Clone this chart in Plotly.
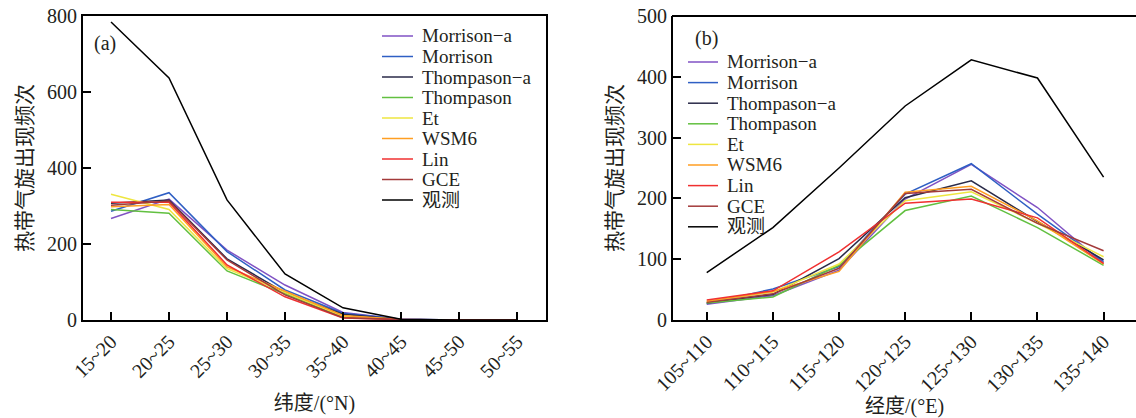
import plotly.graph_objects as go

lat_cats = ["15~20", "20~25", "25~30", "30~35", "35~40", "40~45", "45~50", "50~55"]
lon_cats = ["105~110", "110~115", "115~120", "120~125", "125~130", "130~135", "135~140"]

series_names = ["Morrison−a", "Morrison", "Thompason−a", "Thompason", "Et", "WSM6", "Lin", "GCE", "观测"]
series_colors = ["#8052c4", "#2f5fc4", "#2a2a48", "#62c040", "#eee640", "#ff9e22", "#f03030", "#a33a3a", "#000000"]

# Panel (a): latitude
lat_morrison_a = [267, 318, 184, 92, 20, 2, 0, 0]
lat_morrison = [286, 335, 180, 79, 18, 2, 0, 0]
lat_thompason_a = [307, 316, 161, 72, 15, 1, 0, 0]
lat_thompason = [291, 281, 129, 68, 8, 1, 0, 0]
lat_et = [331, 291, 135, 72, 10, 1, 0, 0]
lat_wsm6 = [298, 304, 140, 76, 12, 1, 0, 0]
lat_lin = [310, 310, 145, 61, 5, 1, 0, 0]
lat_gce = [302, 313, 158, 66, 6, 1, 0, 0]
lat_obs = [784, 637, 316, 121, 32, 2, 0, 0]

# Panel (b): longitude
lon_morrison_a = [26, 40, 82, 199, 256, 185, 93]
lon_morrison = [27, 51, 88, 207, 257, 174, 96]
lon_thompason_a = [28, 42, 101, 201, 229, 162, 99]
lon_thompason = [28, 38, 90, 180, 204, 152, 90]
lon_et = [30, 46, 92, 196, 211, 159, 104]
lon_wsm6 = [31, 47, 80, 210, 220, 163, 92]
lon_lin = [33, 48, 112, 192, 199, 168, 93]
lon_gce = [29, 43, 85, 208, 215, 159, 114]
lon_obs = [78, 152, 250, 352, 428, 398, 235]

lat_series = [lat_morrison_a, lat_morrison, lat_thompason_a, lat_thompason, lat_et,
              lat_wsm6, lat_lin, lat_gce, lat_obs]
lon_series = [lon_morrison_a, lon_morrison, lon_thompason_a, lon_thompason, lon_et,
              lon_wsm6, lon_lin, lon_gce, lon_obs]

FONT = "Liberation Serif, Noto Sans CJK SC, serif"
TXT = "#231f20"

W, H = 1136.0, 418.0
T, B = 16.0, 98.0
PH = H - T - B


def px(x):
    return x / W


def py(y):
    return 1 - (y - T) / PH


fig = go.Figure()
for name, color, ys in zip(series_names, series_colors, lat_series):
    fig.add_trace(go.Scatter(x=lat_cats, y=ys, mode="lines", name=name,
                             line=dict(color=color, width=1.5),
                             xaxis="x", yaxis="y", showlegend=False))
for name, color, ys in zip(series_names, series_colors, lon_series):
    fig.add_trace(go.Scatter(x=lon_cats, y=ys, mode="lines", name=name,
                             line=dict(color=color, width=1.5),
                             xaxis="x2", yaxis="y2", showlegend=False))

axis_common = dict(showline=True, linecolor="#000000", linewidth=2,
                   ticks="inside", ticklen=8, tickwidth=1.5, tickcolor="#000000",
                   showgrid=False, zeroline=False, automargin=False,
                   ticklabeloverflow="allow",
                   tickfont=dict(family=FONT, size=20, color=TXT))

xtitle_font = dict(family=FONT, size=20, color=TXT)
ytitle_font = dict(family=FONT, size=21, color=TXT)

fig.update_layout(
    width=W, height=H,
    margin=dict(l=0, r=0, t=T, b=B, autoexpand=False),
    plot_bgcolor="white", paper_bgcolor="white",
    font=dict(family=FONT, color=TXT),
    showlegend=False,
    xaxis=dict(domain=[px(83), px(546)], type="category", range=[-0.483, 7.5],
               tickangle=-45, anchor="y", mirror=True,
               title=dict(text="纬度/(°N)", font=xtitle_font, standoff=15),
               **axis_common),
    yaxis=dict(domain=[0, 1], range=[0, 800], dtick=200, anchor="x", mirror=True,
               title=dict(text="热带气旋出现频次", font=ytitle_font, standoff=9),
               **axis_common),
    xaxis2=dict(domain=[px(673), 1.0], type="category", range=[-0.51, 6.49],
                tickangle=-45, anchor="y2",
                title=dict(text="经度/(°E)", font=xtitle_font, standoff=12),
                **axis_common),
    yaxis2=dict(domain=[0, 1], range=[0, 500], dtick=100, anchor="x2",
                title=dict(text="热带气旋出现频次", font=ytitle_font, standoff=9),
                **axis_common),
)

shapes = [
    # panel (b) top border
    dict(type="line", xref="paper", yref="paper", x0=px(672), x1=1.0, y0=py(16), y1=py(16),
         line=dict(color="#000000", width=2), layer="above"),
]
annotations = [
    dict(text="(a)", x=px(92), y=py(44), xref="paper", yref="paper", showarrow=False,
         xanchor="left", yanchor="middle", font=dict(family=FONT, size=20, color=TXT)),
    dict(text="(b)", x=px(693), y=py(38), xref="paper", yref="paper", showarrow=False,
         xanchor="left", yanchor="middle", font=dict(family=FONT, size=20, color=TXT)),
]

# legends (one per panel)
legend_specs = [(382, 413, 420, 36, 20.5), (688, 718, 725, 62, 20.6)]
for lx0, lx1, tx, y0, dy in legend_specs:
    for i, (name, color) in enumerate(zip(series_names, series_colors)):
        yy = y0 + i * dy
        shapes.append(dict(type="line", xref="paper", yref="paper",
                           x0=px(lx0), x1=px(lx1), y0=py(yy), y1=py(yy),
                           line=dict(color=color, width=1.5)))
        annotations.append(dict(text=name, x=px(tx), y=py(yy), xref="paper", yref="paper",
                                showarrow=False, xanchor="left", yanchor="middle",
                                font=dict(family=FONT, size=19, color=TXT)))

fig.update_layout(shapes=shapes, annotations=annotations)

fig.write_html("out.html",
               config={"displayModeBar": False},
               post_script="document.body.style.margin='0';document.body.style.overflow='hidden';")
